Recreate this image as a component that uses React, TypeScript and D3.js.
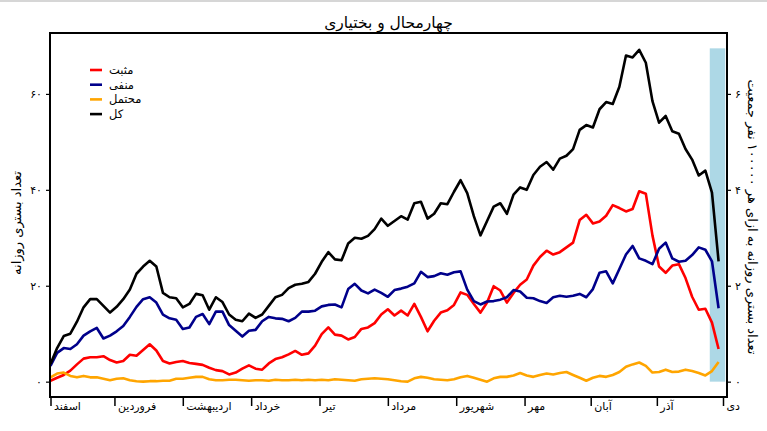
import { useEffect, useRef } from "react";
import * as d3 from "d3";

// days since 1 Esfand, sampled every 3 days (last point = 303)
const days = [
  0, 3, 6, 9, 12, 15, 18, 21, 24, 27, 30, 33, 36, 39, 42, 45, 48, 51, 54, 57,
  60, 63, 66, 69, 72, 75, 78, 81, 84, 87, 90, 93, 96, 99, 102, 105, 108, 111, 114, 117,
  120, 123, 126, 129, 132, 135, 138, 141, 144, 147, 150, 153, 156, 159, 162, 165, 168, 171, 174, 177,
  180, 183, 186, 189, 192, 195, 198, 201, 204, 207, 210, 213, 216, 219, 222, 225, 228, 231, 234, 237,
  240, 243, 246, 249, 252, 255, 258, 261, 264, 267, 270, 273, 276, 279, 282, 285, 288, 291, 294, 297,
  300, 303,
];

const positive = [
  0.2, 0.8, 1.4, 2.3, 3.6, 4.8, 5.1, 5.1, 5.3, 4.5, 4.0, 4.3, 5.6, 5.4, 6.6, 7.8, 6.5, 4.3, 3.8, 4.1,
  4.3, 3.9, 3.7, 3.5, 2.9, 2.4, 2.2, 1.5, 1.9, 2.7, 3.4, 2.7, 2.5, 3.8, 4.7, 5.1, 5.7, 6.4, 5.6, 5.9,
  7.5, 9.9, 11.3, 9.8, 9.6, 8.8, 9.3, 11.0, 11.3, 12.2, 14.0, 15.1, 13.8, 14.8, 13.8, 16.2, 13.5, 10.5, 12.7, 14.4,
  14.9, 16.0, 18.6, 18.1, 16.2, 14.4, 16.5, 19.9, 19.0, 16.5, 18.5, 20.2, 21.3, 24.2, 26.0, 27.3, 26.5, 27.0, 28.0, 29.0,
  33.7, 34.8, 33.0, 33.4, 34.6, 36.8, 36.2, 35.5, 36.0, 39.7, 39.2, 30.5, 24.0, 22.7, 24.2, 24.5, 21.6, 17.7, 15.0, 15.2,
  12.3, 6.8,
];

const negative = [
  3.3, 6.0, 7.0, 6.8, 7.8, 9.6, 10.5, 11.2, 9.0, 9.6, 10.5, 11.6, 13.5, 15.6, 17.2, 17.6, 16.5, 14.0, 13.2, 12.9,
  11.0, 11.3, 13.5, 14.1, 12.0, 14.6, 14.6, 11.8, 10.6, 9.4, 10.6, 10.8, 12.6, 13.5, 13.2, 13.1, 12.6, 13.3, 14.6, 14.6,
  14.8, 15.7, 16.0, 16.1, 15.5, 19.3, 20.4, 19.0, 18.4, 19.2, 18.5, 17.7, 19.1, 19.4, 19.8, 20.5, 22.9, 21.8, 22.0, 22.6,
  22.3, 22.8, 23.0, 19.2, 16.8, 16.1, 16.7, 16.8, 17.1, 17.6, 19.1, 18.8, 17.5, 17.4, 16.8, 16.4, 17.6, 17.9, 17.7, 17.9,
  18.3, 17.6, 19.3, 22.7, 23.0, 20.5, 23.5, 26.5, 28.3, 25.7, 25.2, 24.5, 27.7, 29.0, 25.7, 25.0, 25.2, 26.4, 28.0, 27.5,
  25.1, 15.3,
];

const probable = [
  0.9, 1.7, 1.9, 1.2, 0.9, 1.2, 0.9, 0.9, 0.6, 0.3, 0.6, 0.7, 0.3, 0.1, 0.0, 0.1, 0.1, 0.2, 0.2, 0.6,
  0.6, 0.8, 1.0, 1.0, 0.5, 0.3, 0.3, 0.4, 0.4, 0.3, 0.2, 0.3, 0.3, 0.2, 0.4, 0.3, 0.3, 0.4, 0.3, 0.4,
  0.3, 0.4, 0.3, 0.5, 0.4, 0.3, 0.2, 0.5, 0.6, 0.7, 0.6, 0.5, 0.3, 0.1, 0.0, 0.7, 1.0, 0.8, 0.5, 0.4,
  0.3, 0.5, 0.9, 1.2, 0.8, 0.4, 0.0, 0.7, 1.0, 1.0, 1.3, 1.8, 1.3, 1.0, 1.4, 1.7, 1.5, 1.8, 2.0, 1.4,
  0.8, 0.2, 0.8, 1.2, 1.0, 1.4, 2.0, 3.1, 3.6, 4.0, 3.3, 1.9, 2.0, 2.5, 2.0, 2.1, 2.5, 2.2, 1.8, 1.3,
  2.2, 4.1,
];

const total = [
  3.7, 7.0, 9.5, 10.0, 12.5, 15.5, 17.2, 17.2, 15.8, 14.4, 15.6, 17.2, 19.2, 22.5, 24.0, 25.2, 24.0, 18.5, 17.6, 17.4,
  15.5, 16.2, 18.3, 18.0, 15.0, 17.6, 16.6, 14.0, 12.9, 12.6, 14.2, 13.3, 14.0, 15.8, 17.6, 18.1, 19.5, 20.2, 20.4, 20.8,
  22.5, 25.0, 27.0, 25.5, 25.3, 28.8, 30.0, 29.8, 30.4, 31.8, 34.0, 32.5, 33.5, 34.5, 33.8, 37.2, 37.5, 34.0, 35.0, 37.2,
  37.0, 39.6, 42.0, 39.3, 34.5, 30.5, 33.5, 36.5, 37.2, 35.0, 39.0, 40.5, 40.0, 43.1, 44.8, 45.8, 44.2, 46.5, 47.1, 48.5,
  52.5, 53.5, 53.0, 56.8, 58.3, 57.9, 61.5, 68.0, 67.6, 69.2, 66.5, 58.5, 54.0, 55.4, 52.2, 51.7, 48.5, 46.3, 43.0, 44.0,
  39.4, 25.1,
];

const monthDays = [0, 29, 60, 91, 122, 153, 184, 215, 245, 275, 305];
const monthLabels = ["اسفند", "فروردین", "اردیبهشت", "خرداد", "تیر", "مرداد", "شهریور", "مهر", "آبان", "آذر", "دی"];

const leftTicks = [0, 20, 40, 60];
const rightTicks = [0, 2, 4, 6];

const seriesNames = ["مثبت", "منفی", "محتمل", "کل"];
const seriesColors = ["#ff0000", "#00008b", "#ffa500", "#000000"];

// incomplete-data band (days, value)
const shadeDays = [299, 306];
const shadeTop = 69.5;

const title = "چهارمحال و بختیاری";
const leftLabel = "تعداد بستری روزانه";
const rightLabel = "تعداد بستری روزانه به ازای هر ۱۰۰۰۰۰ نفر جمعیت";

const fa = (n: number) => String(n).replace(/\d/g, (c) => "۰۱۲۳۴۵۶۷۸۹"[+c]);

export default function App() {
  const svgRef = useRef<SVGSVGElement | null>(null);

  useEffect(() => {
    if (!svgRef.current) return;
    const svg = d3.select(svgRef.current);
    svg.selectAll("*").remove();

    const width = 767;
    const height = 431;
    const frame = { left: 50, right: 727, top: 33, bottom: 397 };
    const font = "'DejaVu Sans', sans-serif";

    const x = d3.scaleLinear().domain([0, 305]).range([50.5, 723]);
    const y = d3.scaleLinear().domain([-3.2, 72.7]).range([frame.bottom, frame.top]);
    const yR = d3.scaleLinear().domain([-0.32, 7.27]).range([frame.bottom, frame.top]);

    svg.attr("width", width).attr("height", height).attr("viewBox", `0 0 ${width} ${height}`);
    svg.append("rect").attr("width", width).attr("height", height).attr("fill", "#fff");
    svg.append("rect").attr("width", width).attr("height", 2).attr("fill", "#d6d6d6");

    // shaded band
    svg.append("rect")
      .attr("x", x(shadeDays[0]))
      .attr("y", y(shadeTop))
      .attr("width", x(shadeDays[1]) - x(shadeDays[0]))
      .attr("height", y(0) - y(shadeTop))
      .attr("fill", "#add8e6");

    const series = [positive, negative, probable, total];
    const line = d3.line<number>()
      .x((_, i) => x(days[i]))
      .y((d) => y(d))
      .curve(d3.curveLinear);

    series.forEach((s, k) => {
      svg.append("path")
        .datum(s)
        .attr("d", line)
        .attr("fill", "none")
        .attr("stroke", seriesColors[k])
        .attr("stroke-width", 2.6)
        .attr("stroke-linejoin", "round");
    });

    // frame
    svg.append("rect")
      .attr("x", frame.left).attr("y", frame.top)
      .attr("width", frame.right - frame.left)
      .attr("height", frame.bottom - frame.top)
      .attr("fill", "none").attr("stroke", "#000").attr("stroke-width", 2);

    // left axis
    const gl = svg.append("g").attr("transform", `translate(${frame.left},0)`);
    gl.call(d3.axisLeft(y).tickValues(leftTicks).tickSize(4).tickPadding(4).tickFormat((d) => fa(+d)))
      .call((sel) => sel.select(".domain").remove())
      .call((sel) => sel.selectAll("line").attr("stroke", "#000").attr("stroke-width", 1.2))
      .call((sel) => sel.selectAll("text").attr("fill", "#000").attr("font-size", 11).attr("font-family", font));

    // right axis
    const gr = svg.append("g").attr("transform", `translate(${frame.right},0)`);
    gr.call(d3.axisRight(yR).tickValues(rightTicks).tickSize(4).tickPadding(4).tickFormat((d) => fa(+d)))
      .call((sel) => sel.select(".domain").remove())
      .call((sel) => sel.selectAll("line").attr("stroke", "#000").attr("stroke-width", 1.2))
      .call((sel) => sel.selectAll("text").attr("fill", "#000").attr("font-size", 11).attr("font-family", font));

    // bottom axis
    const gb = svg.append("g").attr("transform", `translate(0,${frame.bottom})`);
    gb.call(d3.axisBottom(x).tickValues(monthDays).tickSize(9).tickFormat((_, i) => monthLabels[i]))
      .call((sel) => sel.select(".domain").remove())
      .call((sel) => sel.selectAll("line").attr("stroke", "#000").attr("stroke-width", 1.5))
      .call((sel) => sel.selectAll("text")
        .attr("fill", "#000").attr("font-size", 11).attr("font-family", font)
        .attr("text-anchor", "start").attr("x", 3).attr("y", 5).attr("dy", "0.71em"));

    // title
    svg.append("text")
      .attr("x", (frame.left + frame.right) / 2).attr("y", 28)
      .attr("text-anchor", "middle").attr("font-size", 15.5).attr("font-family", font)
      .text(title);

    // axis labels
    svg.append("text")
      .attr("transform", `translate(21,${(frame.top + frame.bottom) / 2 + 8}) rotate(-90)`)
      .attr("text-anchor", "middle").attr("font-size", 13).attr("font-family", font)
      .text(leftLabel);
    svg.append("text")
      .attr("transform", `translate(748,${(frame.top + frame.bottom) / 2 + 2}) rotate(90)`)
      .attr("text-anchor", "middle").attr("font-size", 13).attr("font-family", font)
      .text(rightLabel);

    // legend
    const lg = svg.append("g").attr("transform", "translate(90,70)");
    seriesNames.forEach((name, i) => {
      lg.append("line")
        .attr("x1", 0).attr("x2", 12)
        .attr("y1", i * 14.7).attr("y2", i * 14.7)
        .attr("stroke", seriesColors[i]).attr("stroke-width", 2.6);
      lg.append("text")
        .attr("x", 19).attr("y", i * 14.7).attr("dy", "0.35em")
        .attr("font-size", 11.5).attr("font-family", font)
        .text(name);
    });
  }, []);

  return (
    <svg ref={svgRef} style={{ position: "absolute", left: 0, top: 0 }} />
  );
}
